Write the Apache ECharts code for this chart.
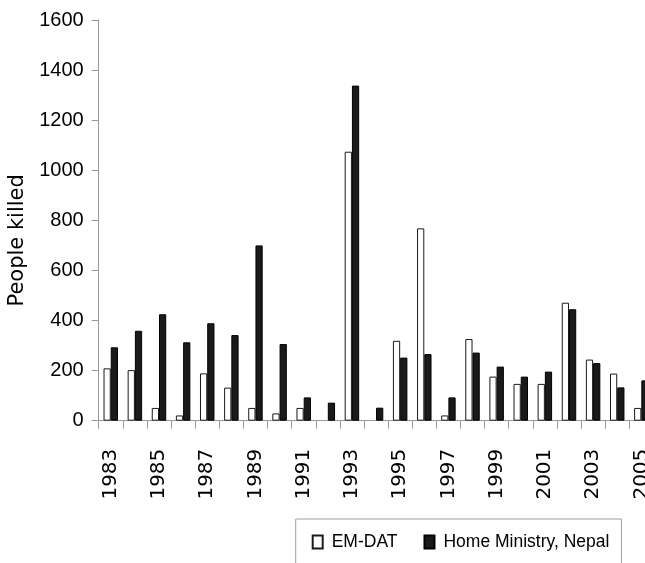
<!DOCTYPE html>
<html>
<head>
<meta charset="utf-8">
<script src="https://cdn.jsdelivr.net/npm/echarts@6/dist/echarts.min.js"></script>
<style>html,body{margin:0;padding:0;background:#fff;}#chart{width:645px;height:563px;}</style>
</head>
<body>
<div id="chart"></div>
<script>
var years = ['1983','1984','1985','1986','1987','1988','1989','1990','1991','1992','1993','1994','1995','1996','1997','1998','1999','2000','2001','2002','2003','2004','2005'];
var emdat = [209,202,51,21,189,132,51,29,51,null,1074,null,319,768,21,326,176,147,147,471,244,188,51];
var homeMinistry = [293,359,425,313,389,342,700,306,93,72,1338,52,252,266,93,272,216,176,196,445,230,133,161];
var yTicks = [0,200,400,600,800,1000,1200,1400,1600];
var seriesNames = ['EM-DAT','Home Ministry, Nepal'];

var chart = echarts.init(document.getElementById('chart'));
chart.setOption({
  animation: false,
  backgroundColor: '#ffffff',
  grid: { left: 98.7, top: 20, right: -8.4, bottom: 142.3, containLabel: false, outerBoundsMode: 'none' },
  legend: {
    data: seriesNames,
    icon: 'rect',
    left: 295.7, top: 519,
    orient: 'horizontal',
    padding: [14, 12, 40, 16],
    borderColor: '#a0a0a0', borderWidth: 1,
    itemWidth: 10, itemHeight: 13, itemGap: 26,
    textStyle: { fontFamily: 'Liberation Sans, Arial, sans-serif', fontSize: 17.5, color: '#000', padding: [0,0,0,4] }
  },
  xAxis: {
    type: 'category',
    data: years,
    boundaryGap: true,
    axisLine: { lineStyle: { color: '#999999', width: 1 } },
    axisTick: { show: true, length: 8, alignWithLabel: false, interval: 0, lineStyle: { color: '#999999' } },
    axisLabel: { interval: 1, rotate: 90, margin: 28, fontFamily: 'DejaVu Sans, sans-serif', fontSize: 20, color: '#000', hideOverlap: false }
  },
  yAxis: {
    type: 'value',
    min: yTicks[0], max: yTicks[yTicks.length - 1], interval: 200,
    name: 'People killed',
    nameLocation: 'middle',
    nameGap: 66,
    nameRotate: 90,
    nameTextStyle: { fontFamily: 'DejaVu Sans, sans-serif', fontSize: 21, color: '#000', padding: [0, 40, 0, 0] },
    axisLine: { show: true, lineStyle: { color: '#999999', width: 1 } },
    axisTick: { show: true, length: 7, lineStyle: { color: '#999999' } },
    splitLine: { show: false },
    axisLabel: { margin: 15, fontFamily: 'Liberation Sans, Arial, sans-serif', fontSize: 20, color: '#000',
      formatter: function (v) { return String(v); } }
  },
  series: [
    {
      name: seriesNames[0], type: 'bar', data: emdat,
      barWidth: '30%', barGap: '0%',
      itemStyle: { color: '#ffffff', borderColor: '#1a1a1a', borderWidth: 1 }
    },
    {
      name: seriesNames[1], type: 'bar', data: homeMinistry,
      barWidth: '30%', barGap: '0%',
      itemStyle: { color: '#1a1a1a', borderColor: '#000000', borderWidth: 1 }
    }
  ]
});
</script>
</body>
</html>
